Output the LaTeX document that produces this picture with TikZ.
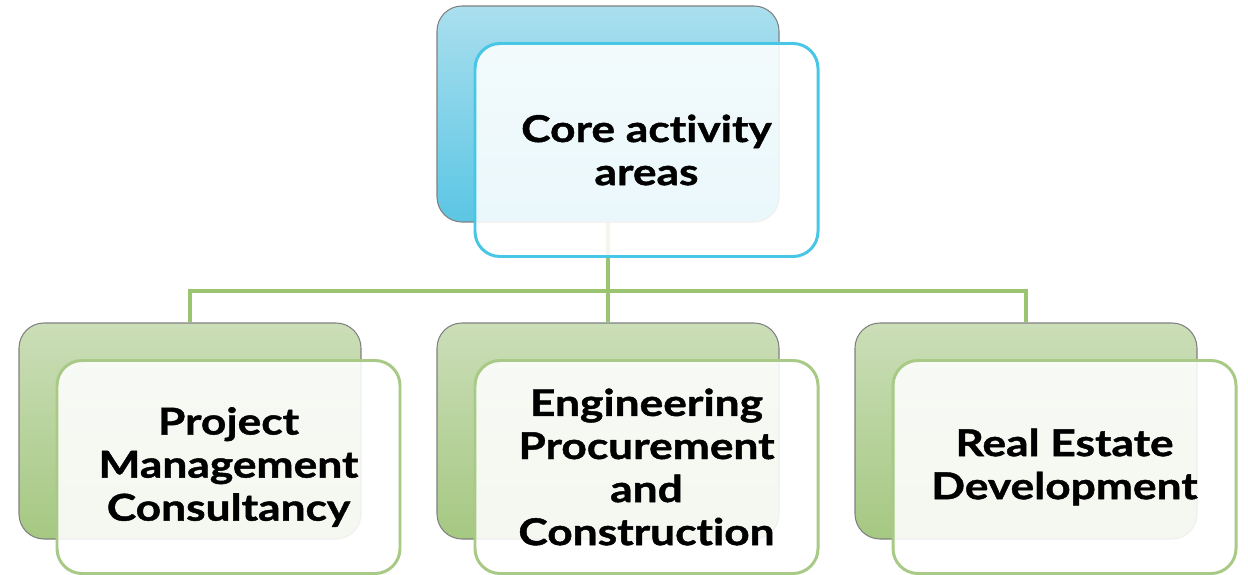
\documentclass[tikz,border=0pt]{standalone}
\usepackage{fontspec}
\setmainfont{Lato}[Ligatures=NoCommon,
  BoldFeatures={FakeStretch=1.2,FakeBold=1.2}]
\usepackage{tikz}
\usetikzlibrary{positioning}

\definecolor{bluetop}{RGB}{170,223,238}
\definecolor{bluebot}{RGB}{91,198,228}
\definecolor{blueedge}{RGB}{72,198,230}
\definecolor{greentop}{RGB}{203,222,184}
\definecolor{greenbot}{RGB}{165,200,130}
\definecolor{greenedge}{RGB}{168,202,134}
\definecolor{greenline}{RGB}{155,196,112}

\begin{document}
\begin{tikzpicture}[
    backbox/.style={draw=gray, line width=0.6pt, rounded corners=0.5cm,
      minimum width=6.84cm, minimum height=4.32cm},
    frontbox/.style={rounded corners=0.5cm, line width=1.7pt,
      fill=white, fill opacity=0.88, text opacity=1,
      minimum width=6.86cm, minimum height=4.26cm,
      align=center, font=\bfseries\fontsize{21}{24.5}\selectfont,
      xshift=0.77cm, yshift=-0.72cm},
    link/.style={greenline, line width=2.3pt}]
  \useasboundingbox (0,0) rectangle (24.96,11.48);

  \node[backbox, top color=bluetop, bottom color=bluebot] (coreback) at (12.16,9.2) {};
  \node[backbox, top color=greentop, bottom color=greenbot] (pmcback) at (3.8,2.86) {};
  \node[backbox, top color=greentop, bottom color=greenbot] (epcback) at (12.16,2.86) {};
  \node[backbox, top color=greentop, bottom color=greenbot] (redback) at (20.52,2.86) {};

  \coordinate[below=1.36cm of coreback.south] (hub);
  \draw[link] (coreback.south) -- (hub) -| (pmcback.north);
  \draw[link] (hub) -- (epcback.north);
  \draw[link] (hub) -| (redback.north);

  \node[frontbox, draw=blueedge] (core) at (coreback) {Core activity\\areas};
  \node[frontbox, draw=greenedge] (pmc) at (pmcback) {Project\\Management\\Consultancy};
  \node[frontbox, draw=greenedge] (epc) at (epcback) {Engineering\\Procurement\\and\\Construction};
  \node[frontbox, draw=greenedge] (red) at (redback) {Real Estate\\Development};
\end{tikzpicture}
\end{document}
